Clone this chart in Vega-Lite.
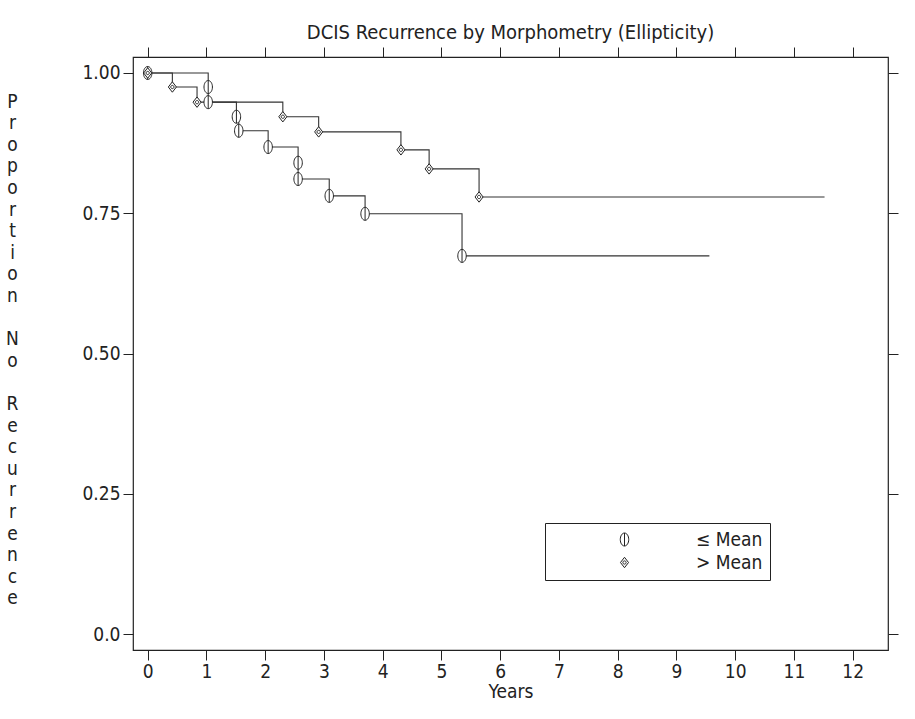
{
  "$schema": "https://vega.github.io/schema/vega-lite/v6.json",
  "width": 755,
  "height": 593,
  "autosize": "none",
  "padding": {"left": 133, "top": 57, "right": 27, "bottom": 69},
  "background": "white",
  "title": {
    "text": "DCIS Recurrence by Morphometry (Ellipticity)",
    "font": "DejaVu Sans Condensed, Liberation Sans, sans-serif",
    "fontSize": 20,
    "fontWeight": "normal",
    "color": "#222",
    "anchor": "middle",
    "offset": 4
  },
  "config": {
    "view": {"stroke": "#222", "strokeWidth": 1.2},
    "font": "DejaVu Sans Condensed, Liberation Sans, sans-serif",
    "axis": {
      "domain": false,
      "grid": false,
      "tickColor": "#222",
      "tickSize": 10,
      "tickWidth": 1,
      "labelFont": "DejaVu Sans Condensed, Liberation Sans, sans-serif",
      "labelFontSize": 19,
      "labelColor": "#222",
      "titleFont": "DejaVu Sans Condensed, Liberation Sans, sans-serif",
      "titleFontWeight": "normal",
      "titleColor": "#222"
    }
  },
  "data": {
    "values": [
      {"group": "≤ Mean", "years": 0, "surv": 1.0, "marker": true},
      {"group": "≤ Mean", "years": 1.03, "surv": 0.975, "marker": true},
      {"group": "≤ Mean", "years": 1.03, "surv": 0.948, "marker": true},
      {"group": "≤ Mean", "years": 1.51, "surv": 0.922, "marker": true},
      {"group": "≤ Mean", "years": 1.55, "surv": 0.897, "marker": true},
      {"group": "≤ Mean", "years": 2.05, "surv": 0.868, "marker": true},
      {"group": "≤ Mean", "years": 2.56, "surv": 0.840, "marker": true},
      {"group": "≤ Mean", "years": 2.56, "surv": 0.811, "marker": true},
      {"group": "≤ Mean", "years": 3.09, "surv": 0.781, "marker": true},
      {"group": "≤ Mean", "years": 3.70, "surv": 0.749, "marker": true},
      {"group": "≤ Mean", "years": 5.35, "surv": 0.674, "marker": true},
      {"group": "≤ Mean", "years": 9.56, "surv": 0.674, "marker": false},
      {"group": "> Mean", "years": 0, "surv": 1.0, "marker": true},
      {"group": "> Mean", "years": 0.42, "surv": 0.975, "marker": true},
      {"group": "> Mean", "years": 0.84, "surv": 0.948, "marker": true},
      {"group": "> Mean", "years": 2.30, "surv": 0.922, "marker": true},
      {"group": "> Mean", "years": 2.91, "surv": 0.895, "marker": true},
      {"group": "> Mean", "years": 4.31, "surv": 0.863, "marker": true},
      {"group": "> Mean", "years": 4.79, "surv": 0.829, "marker": true},
      {"group": "> Mean", "years": 5.64, "surv": 0.779, "marker": true},
      {"group": "> Mean", "years": 11.52, "surv": 0.779, "marker": false}
    ]
  },
  "resolve": {"axis": {"x": "independent", "y": "independent"}},
  "layer": [
    {
      "mark": {"type": "line", "interpolate": "step-after", "color": "#333", "strokeWidth": 1.1},
      "encoding": {
        "x": {
          "field": "years", "type": "quantitative",
          "scale": {"domain": [-0.25, 12.6], "nice": false, "zero": false},
          "axis": {
            "orient": "bottom",
            "values": [0,1,2,3,4,5,6,7,8,9,10,11,12],
            "labelPadding": 2,
            "title": "Years",
            "titleFontSize": 19,
            "titlePadding": 1
          }
        },
        "y": {
          "field": "surv", "type": "quantitative",
          "scale": {"domain": [-0.0285, 1.0285], "nice": false, "zero": false},
          "axis": {
            "orient": "left",
            "values": [0, 0.25, 0.5, 0.75, 1],
            "labelExpr": "datum.value == 0 ? '0.0' : format(datum.value, '.2f')",
            "labelPadding": 3,
            "title": ["P","r","o","p","o","r","t","i","o","n","\u2800","N","o","\u2800","R","e","c","u","r","r","e","n","c","e"],
            "titleAngle": 0,
            "titleFontSize": 19,
            "titleLineHeight": 21.6,
            "titleAlign": "center",
            "titleBaseline": "alphabetic",
            "titleX": -121,
            "titleY": 50
          }
        },
        "detail": {"field": "group"}
      }
    },
    {
      "transform": [{"filter": "datum.marker"}],
      "mark": {"type": "point", "filled": false, "fill": "white", "fillOpacity": 1, "strokeWidth": 1, "opacity": 1, "size": 169},
      "encoding": {
        "x": {
          "field": "years", "type": "quantitative",
          "axis": {"orient": "top", "values": [0,1,2,3,4,5,6,7,8,9,10,11,12], "labels": false, "title": null}
        },
        "y": {
          "field": "surv", "type": "quantitative",
          "axis": {"orient": "right", "values": [0, 0.25, 0.5, 0.75, 1], "labels": false, "title": null}
        },
        "color": {
          "field": "group", "type": "nominal",
          "scale": {"domain": ["≤ Mean", "> Mean"], "range": ["#222", "#222"]},
          "legend": {
            "orient": "none",
            "legendX": 412,
            "legendY": 466,
            "title": null,
            "strokeColor": "#222",
            "fillColor": "white",
            "padding": 7,
            "symbolSize": 169,
            "symbolOffset": 63,
            "labelOffset": 62,
            "labelFont": "DejaVu Sans Condensed, Liberation Sans, sans-serif",
            "labelFontSize": 19,
            "labelColor": "#222",
            "rowPadding": 3,
            "symbolStrokeWidth": 1,
            "symbolOpacity": 1,
            "encode": {
              "symbols": {
                "shape": {
                  "condition": {"test": "datum.value === '≤ Mean'", "value": "M-7.1,0L-0.62,0M0.62,0L7.1,0M0,-0.9A0.6,0.9,0,1,1,0,0.9A0.6,0.9,0,1,1,0,-0.9ZM0,-0.9L0,0.9M25.7,0"},
                  "value": "M-7.1,0L-0.6,0M0.6,0L7.1,0M0,-0.75L0.6,0L0,0.75L-0.6,0ZM-0.22,0A0.22,0.22,0,1,1,0.22,0A0.22,0.22,0,1,1,-0.22,0ZM25.7,0"
                },
                "fill": {"value": "white"},
                "stroke": {"value": "#222"}
              }
            }
          }
        },
        "shape": {
          "field": "group", "type": "nominal",
          "scale": {
            "domain": ["≤ Mean", "> Mean"],
            "range": [
              "M0,-1A0.65,1,0,1,1,0,1A0.65,1,0,1,1,0,-1ZM0,-1L0,1",
              "M0,-0.8L0.62,0L0,0.8L-0.62,0ZM-0.25,0A0.25,0.25,0,1,1,0.25,0A0.25,0.25,0,1,1,-0.25,0Z"
            ]
          },
          "legend": {
            "orient": "none",
            "legendX": 412,
            "legendY": 466,
            "title": null,
            "strokeColor": "#222",
            "fillColor": "white",
            "padding": 7,
            "symbolSize": 169,
            "symbolOffset": 63,
            "labelOffset": 62,
            "labelFont": "DejaVu Sans Condensed, Liberation Sans, sans-serif",
            "labelFontSize": 19,
            "labelColor": "#222",
            "rowPadding": 3,
            "symbolStrokeWidth": 1,
            "symbolOpacity": 1,
            "encode": {
              "symbols": {
                "shape": {
                  "condition": {"test": "datum.value === '≤ Mean'", "value": "M-7.1,0L-0.62,0M0.62,0L7.1,0M0,-0.9A0.6,0.9,0,1,1,0,0.9A0.6,0.9,0,1,1,0,-0.9ZM0,-0.9L0,0.9M25.7,0"},
                  "value": "M-7.1,0L-0.6,0M0.6,0L7.1,0M0,-0.75L0.6,0L0,0.75L-0.6,0ZM-0.22,0A0.22,0.22,0,1,1,0.22,0A0.22,0.22,0,1,1,-0.22,0ZM25.7,0"
                },
                "fill": {"value": "white"},
                "stroke": {"value": "#222"}
              }
            }
          }
        }
      }
    }
  ]
}
